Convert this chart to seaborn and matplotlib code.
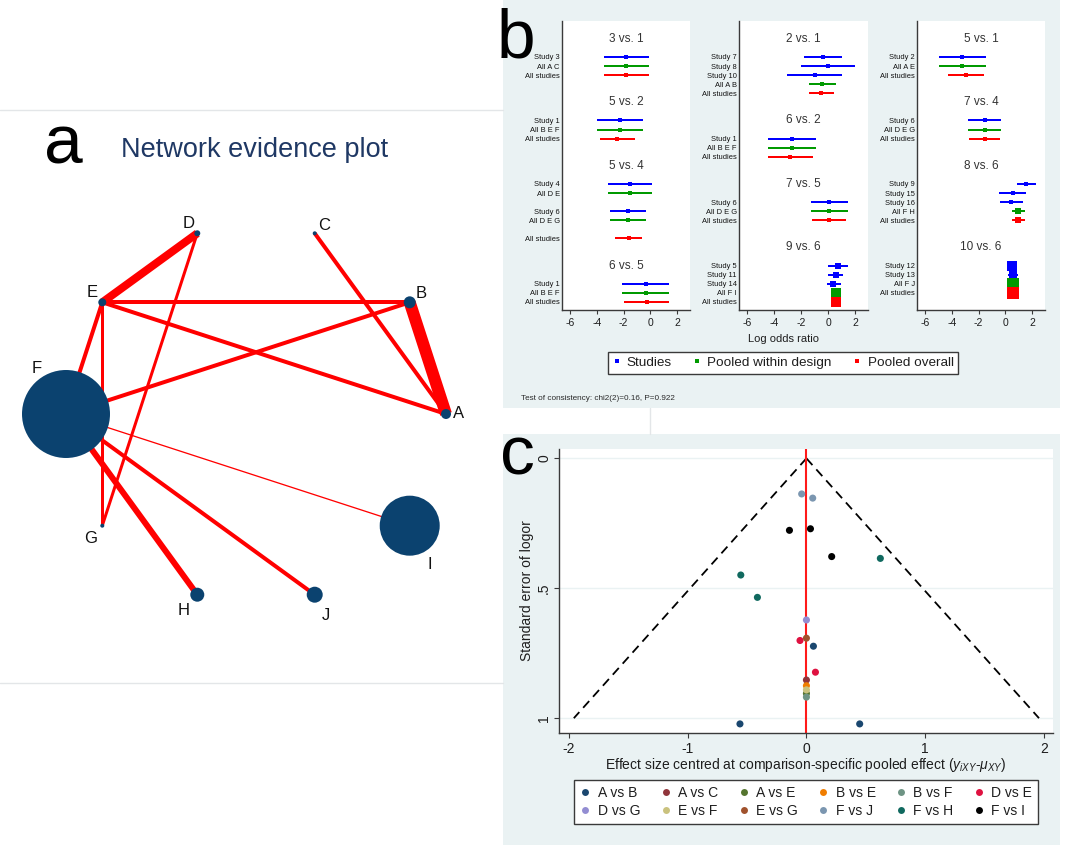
import numpy as np
import pandas as pd
import matplotlib
matplotlib.use("Agg")
import matplotlib.pyplot as plt
import seaborn as sns
from matplotlib import font_manager as fm
from matplotlib.lines import Line2D
from matplotlib.patches import Rectangle

# ---------------------------------------------------------------- data: panel a (network)
node_names = ["A", "B", "C", "D", "E", "F", "G", "H", "J", "I"]      # order round the circle
node_weight = [25, 36, 4, 9, 16, 1936, 4, 49, 64, 900]              # node area weight
edge_from = ["A", "A", "A", "B", "B", "D", "D", "E", "E", "F", "F", "F"]
edge_to = ["B", "C", "E", "E", "F", "E", "G", "F", "G", "J", "H", "I"]
edge_weight = [12, 4, 4, 4, 4, 8, 3, 4, 3, 4, 6, 1.3]

# ---------------------------------------------------------------- data: panel b (forest)
forest_col1 = ["3 vs. 1", "5 vs. 2", "5 vs. 4", "6 vs. 5"]
forest_col2 = ["2 vs. 1", "6 vs. 2", "7 vs. 5", "9 vs. 6"]
forest_col3 = ["5 vs. 1", "7 vs. 4", "8 vs. 6", "10 vs. 6"]
forest_comparison = (["3 vs. 1"] * 3 + ["5 vs. 2"] * 3 + ["5 vs. 4"] * 5 + ["6 vs. 5"] * 3
                     + ["2 vs. 1"] * 5 + ["6 vs. 2"] * 3 + ["7 vs. 5"] * 3 + ["9 vs. 6"] * 5
                     + ["5 vs. 1"] * 3 + ["7 vs. 4"] * 3 + ["8 vs. 6"] * 5 + ["10 vs. 6"] * 4)
forest_label = ["Study 3", "All A C", "All studies",
                "Study 1", "All B E F", "All studies",
                "Study 4", "All D E", "Study 6", "All D E G", "All studies",
                "Study 1", "All B E F", "All studies",
                "Study 7", "Study 8", "Study 10", "All A B", "All studies",
                "Study 1", "All B E F", "All studies",
                "Study 6", "All D E G", "All studies",
                "Study 5", "Study 11", "Study 14", "All F I", "All studies",
                "Study 2", "All A E", "All studies",
                "Study 6", "All D E G", "All studies",
                "Study 9", "Study 15", "Study 16", "All F H", "All studies",
                "Study 12", "Study 13", "All F J", "All studies"]
forest_est = [-1.79, -1.79, -1.79,
              -2.29, -2.29, -2.49,
              -1.54, -1.54, -1.67, -1.67, -1.62,
              -0.37, -0.37, -0.27,
              -0.37, 0.00, -0.99, -0.45, -0.50,
              -2.68, -2.68, -2.83,
              0.07, 0.07, 0.05,
              0.74, 0.55, 0.37, 0.55, 0.55,
              -3.21, -3.21, -2.96,
              -1.56, -1.56, -1.56,
              1.56, 0.54, 0.40, 0.96, 0.96,
              0.52, 0.57, 0.57, 0.57]
forest_lo = [-3.46, -3.46, -3.46,
             -4.00, -4.00, -3.78,
             -3.16, -3.16, -3.03, -3.03, -2.66,
             -2.11, -2.11, -1.94,
             -1.79, -2.00, -3.03, -1.44, -1.44,
             -4.49, -4.49, -4.49,
             -1.27, -1.27, -1.19,
             0.02, 0.02, -0.12, 0.24, 0.24,
             -4.94, -4.94, -4.25,
             -2.77, -2.77, -2.69,
             0.84, -0.47, -0.44, 0.49, 0.49,
             0.19, 0.22, 0.35, 0.35]
forest_hi = [-0.10, -0.10, -0.10,
             -0.55, -0.55, -1.17,
             0.10, 0.10, -0.30, -0.30, -0.60,
             1.37, 1.37, 1.37,
             1.04, 2.00, 0.99, 0.55, 0.42,
             -0.89, -0.89, -1.12,
             1.44, 1.44, 1.29,
             1.46, 1.07, 0.92, 0.86, 0.86,
             -1.43, -1.43, -1.63,
             -0.35, -0.35, -0.40,
             2.30, 1.56, 1.28, 1.46, 1.46,
             0.85, 0.92, 0.80, 0.80]
forest_ticks = [-6, -4, -2, 0, 2]
consistency_text = "Test of consistency: chi2(2)=0.16, P=0.922"

# ---------------------------------------------------------------- data: panel c (funnel)
comparison_order = ["A vs B", "A vs C", "A vs E", "B vs E", "B vs F", "D vs E",
                    "D vs G", "E vs F", "E vs G", "F vs J", "F vs H", "F vs I"]
funnel_comparison = ["A vs B", "A vs B", "A vs B", "A vs C", "A vs E", "B vs E", "B vs F",
                     "D vs E", "D vs E", "D vs G", "E vs F", "E vs G",
                     "F vs J", "F vs J", "F vs H", "F vs H", "F vs H", "F vs I", "F vs I", "F vs I"]
funnel_effect = [0.059, -0.56, 0.449, 0.0, 0.0, 0.0, 0.0,
                 -0.054, 0.076, 0.0, 0.0, 0.0,
                 -0.04, 0.053, 0.623, -0.553, -0.413, -0.143, 0.034, 0.213]
funnel_se = [0.723, 1.022, 1.022, 0.853, 0.905, 0.875, 0.919,
             0.701, 0.823, 0.622, 0.891, 0.692,
             0.137, 0.153, 0.385, 0.449, 0.535, 0.277, 0.271, 0.378]
funnel_xticks = [-2, -1, 0, 1, 2]
funnel_yticks = [0, 0.5, 1]
funnel_yticklabels = ["0", ".5", "1"]

# ---------------------------------------------------------------- style
sns.set_theme(style="white")
available = {f.name for f in fm.fontManager.ttflist}
SANS = "Liberation Sans" if "Liberation Sans" in available else "DejaVu Sans"
NARROW = "Liberation Sans Narrow" if "Liberation Sans Narrow" in available else SANS
plt.rcParams["font.family"] = [SANS, "DejaVu Sans"]
plt.rcParams["axes.unicode_minus"] = False
plt.rcParams["mathtext.fontset"] = "custom"
plt.rcParams["mathtext.rm"] = SANS
plt.rcParams["mathtext.it"] = SANS + ":italic"

W, H, DPI = 1065, 847, 100
PX = 72.0 / DPI
BG = "#eaf2f3"
NAVY = "#0b426f"
TXT = "#1e1e1e"
SPINE = "#3a3a3a"

palette = {"A vs B": "#1a476f", "A vs C": "#90353b", "A vs E": "#55752f",
           "B vs E": "#f07d00", "B vs F": "#6e9484", "D vs E": "#df1140",
           "D vs G": "#938dd2", "E vs F": "#cac27e", "E vs G": "#a0522d",
           "F vs J": "#7b96b0", "F vs H": "#10695f", "F vs I": "#000000"}

fig = plt.figure(figsize=(W / DPI, H / DPI), dpi=DPI)
fig.patch.set_facecolor("white")


def rect(x0, y0, x1, y1):
    return [x0 / W, 1 - y1 / H, (x1 - x0) / W, (y1 - y0) / H]


def fx(x):
    return x / W


def fy(y):
    return 1 - y / H


# backgrounds / separators
fig.add_artist(Rectangle((fx(503), fy(408)), (1060 - 503) / W, 408 / H, transform=fig.transFigure,
                         facecolor=BG, edgecolor="none", zorder=-5))
fig.add_artist(Rectangle((fx(503), fy(845)), (1060 - 503) / W, (845 - 434) / H, transform=fig.transFigure,
                         facecolor=BG, edgecolor="none", zorder=-5))
for yy in (110, 683):
    fig.add_artist(Line2D([0, fx(503)], [fy(yy), fy(yy)], transform=fig.transFigure,
                          color="#e3e6e8", lw=1.0, zorder=-4))
fig.add_artist(Line2D([fx(650), fx(650)], [fy(408), fy(434)], transform=fig.transFigure,
                      color="#e3e6e8", lw=1.0, zorder=-4))

# ================================================================ panel a
axa = fig.add_axes(rect(0, 0, 500, 847))
axa.set_xlim(-256 / 190, 244 / 190)
axa.set_ylim(-(847 - 414) / 190, 414 / 190)
axa.axis("off")
axa.patch.set_alpha(0)

theta = np.deg2rad(36.0 * np.arange(len(node_names)))
nodes = pd.DataFrame({"name": node_names, "x": np.cos(theta), "y": np.sin(theta), "w": node_weight})
pos = {r.name: (r.x, r.y) for r in nodes.itertuples()}

for a, b, w in zip(edge_from, edge_to, edge_weight):
    axa.plot([pos[a][0], pos[b][0]], [pos[a][1], pos[b][1]], color="#ff0000",
             lw=w * PX, solid_capstyle="butt", zorder=1)

node_sizes = {n: (2 * np.sqrt(w) * PX) ** 2 for n, w in zip(node_names, node_weight)}
sns.scatterplot(data=nodes, x="x", y="y", size="name", sizes=node_sizes, color=NAVY,
                edgecolor="none", linewidth=0, legend=False, ax=axa, zorder=3)

label_offset = {"A": (12.5, 0), "B": (11, -8.5), "C": (9, -8), "D": (-8.6, -10), "E": (-10, -10),
                "F": (-29.5, -45.5), "G": (-12, 13), "H": (-14, 16), "J": (11, 21), "I": (20, 39)}
for n in node_names:
    dx, dy = label_offset[n]
    axa.annotate(n, xy=pos[n], xytext=(dx * PX, -dy * PX), textcoords="offset points",
                 ha="center", va="center", fontsize=12, color="#111111", zorder=4)

fig.text(fx(44), fy(163), "a", fontsize=50, va="baseline", ha="left", color="#000000")
fig.text(fx(121), fy(157), "Network evidence plot", fontsize=19.5, va="baseline", ha="left",
         color="#1f3864")

# ================================================================ panel b
kind_color = {"study": "#0000ff", "design": "#009a00", "overall": "#ff0000"}


def layout(comps):
    titles, rows = [], []
    r = -2
    for comp in comps:
        idx = [i for i, c in enumerate(forest_comparison) if c == comp]
        titles.append((r, comp))
        r += 2
        kinds = ["overall" if forest_label[i] == "All studies" else
                 ("design" if forest_label[i].startswith("All") else "study") for i in idx]
        n_design = kinds.count("design")
        prev = None
        for i, k in zip(idx, kinds):
            if n_design > 1 and prev == "design":
                r += 1
            rows.append((r, forest_label[i], forest_est[i], forest_lo[i], forest_hi[i], k))
            prev = k
            r += 1
        r += 2
    return titles, rows


cols_px = [(562, 690), (739, 868), (917, 1045)]
for (x0, x1), comps in zip(cols_px, [forest_col1, forest_col2, forest_col3]):
    ax = fig.add_axes(rect(x0, 20.7, x1, 310))
    ax.set_facecolor("white")
    titles, rows = layout(comps)
    for (r, lab, est, lo, hi, k) in rows:
        c = kind_color[k]
        ax.plot([lo, hi], [r, r], color=c, lw=2.0 * PX, solid_capstyle="butt", zorder=2)
        side = float(np.clip(6.6 / (hi - lo) ** 0.75, 3.3, 12.0))
        ax.plot([est], [r], marker="s", ms=side * PX, color=c, mec=c, mew=0, ls="none", zorder=3)
    for (r, t) in titles:
        ax.text(0.5, r, t, transform=ax.get_yaxis_transform(), ha="center", va="center",
                fontsize=8.5, color="#333333")
    ax.set_xlim(-6.6, 2.95)
    ax.set_ylim(27.9, -4.0)
    ax.set_yticks([r[0] for r in rows])
    ax.set_yticklabels([r[1] for r in rows], fontsize=5.4, family=NARROW,
                       color="#111111")
    ax.tick_params(axis="y", length=0, pad=1.7)
    ax.set_xticks(forest_ticks)
    ax.set_xticklabels([str(t) for t in forest_ticks], fontsize=7.5, color=TXT)
    ax.tick_params(axis="x", length=3, width=0.8, color=SPINE, pad=2.5, direction="out", bottom=True)
    for s in ("top", "right"):
        ax.spines[s].set_visible(False)
    for s in ("left", "bottom"):
        ax.spines[s].set_color(SPINE)
        ax.spines[s].set_linewidth(1.0)

fig.text(fx(783), fy(339), "Log odds ratio", fontsize=8, ha="center", va="center", color=TXT)
hb = [Line2D([], [], marker="s", ls="none", ms=2.6, color=kind_color[k], mew=0)
      for k in ("study", "design", "overall")]
legb = fig.legend(hb, ["Studies", "Pooled within design", "Pooled overall"], ncol=3,
                  loc="center", bbox_to_anchor=(fx(783), fy(363)), fontsize=9.7,
                  frameon=True, fancybox=False, edgecolor=SPINE, facecolor="white",
                  framealpha=1, handlelength=0.6, handletextpad=0.45, columnspacing=1.6,
                  borderpad=0.35)
legb.get_frame().set_linewidth(1.0)
for t in legb.get_texts():
    t.set_color(TXT)
fig.text(fx(521), fy(398), consistency_text, fontsize=5.9, family=NARROW, va="center", ha="left",
         color="#2a2a2a")
fig.text(fx(497), fy(58), "b", fontsize=50, va="baseline", ha="left", color="#000000")

# ================================================================ panel c
axc = fig.add_axes(rect(559, 449, 1053, 733))
axc.set_facecolor("white")
for yv in funnel_yticks:
    axc.axhline(yv, color=BG, lw=1.0, zorder=0)
se_line = np.array([0.0, 1.0])
axc.plot(-1.96 * se_line, se_line, color="black", lw=1.3, ls=(0, (5, 3.2)), zorder=1)
axc.plot(1.96 * se_line, se_line, color="black", lw=1.3, ls=(0, (5, 3.2)), zorder=1)
axc.axvline(0, color="#ff1a1a", lw=1.5, zorder=2)

fun = pd.DataFrame({"comparison": funnel_comparison, "effect": funnel_effect, "se": funnel_se})
fun["order"] = fun["comparison"].map({c: i for i, c in enumerate(comparison_order)})
fun = fun.sort_values("order", kind="stable")
sns.scatterplot(data=fun, x="effect", y="se", hue="comparison", hue_order=comparison_order,
                palette=palette, s=26, edgecolor="none", linewidth=0, legend=False, ax=axc, zorder=3)
axc.set_xlim(-2.085, 2.078)
axc.set_ylim(1.057, -0.036)
axc.set_xticks(funnel_xticks)
axc.set_xticklabels([str(t) for t in funnel_xticks], fontsize=10, color=TXT)
axc.set_yticks(funnel_yticks)
axc.set_yticklabels(funnel_yticklabels, fontsize=10, color=TXT, rotation=90, va="center")
axc.tick_params(axis="both", length=3.6, width=0.8, color=SPINE, direction="out", left=True, bottom=True)
axc.tick_params(axis="x", pad=3)
axc.tick_params(axis="y", pad=2)
axc.set_xlabel("")
axc.set_ylabel("")
for s in ("top", "right"):
    axc.spines[s].set_visible(False)
for s in ("left", "bottom"):
    axc.spines[s].set_color(SPINE)
    axc.spines[s].set_linewidth(1.0)

fig.text(fx(806), fy(765), r"Effect size centred at comparison-specific pooled effect ($y_{iXY}$-$\mu_{XY}$)",
         fontsize=10, ha="center", va="center", color=TXT)
fig.text(fx(527), fy(591), "Standard error of logor", fontsize=10, ha="center", va="center",
         rotation=90, color=TXT)

hc = {c: Line2D([], [], marker="o", ls="none", ms=5.0, color=palette[c], mew=0) for c in comparison_order}
row1, row2 = comparison_order[:6], comparison_order[6:]
leg_order = [c for pair in zip(row1, row2) for c in pair]
legc = fig.legend([hc[c] for c in leg_order], leg_order, ncol=6, loc="center",
                  bbox_to_anchor=(fx(806), fy(802)), fontsize=10, frameon=True, fancybox=False,
                  edgecolor=SPINE, facecolor="white", framealpha=1, handlelength=0.8,
                  handletextpad=0.5, columnspacing=1.42, borderpad=0.45, labelspacing=0.25)
legc.get_frame().set_linewidth(1.0)
for t in legc.get_texts():
    t.set_color(TXT)
fig.text(fx(500), fy(474), "c", fontsize=50, va="baseline", ha="left", color="#000000")

fig.savefig("out.png", dpi=DPI, facecolor="white")
